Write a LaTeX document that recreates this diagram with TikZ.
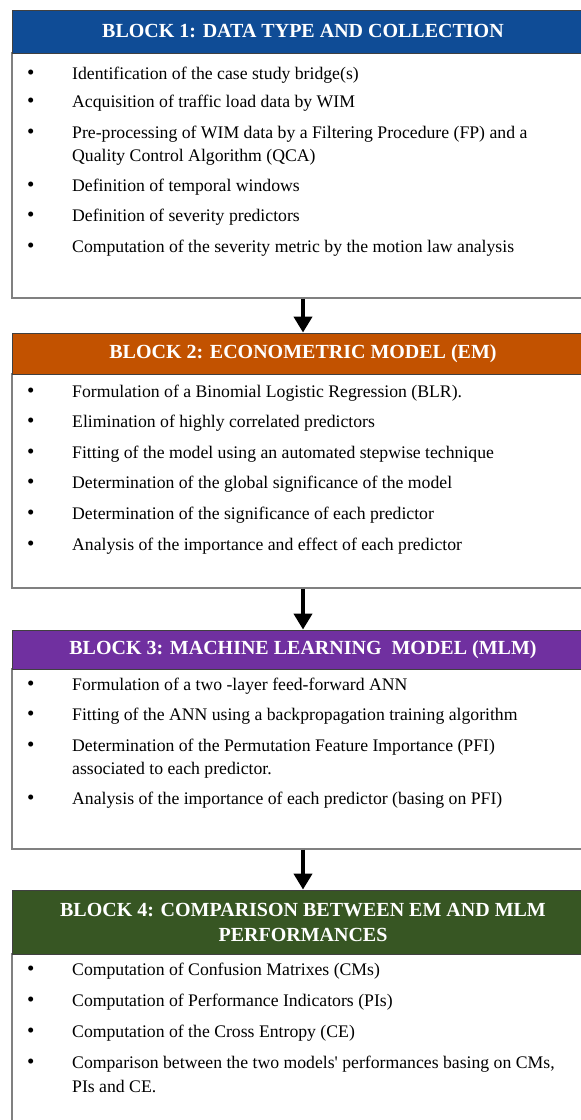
\documentclass[tikz,border=0pt]{standalone}
\usepackage{fontspec}
\setmainfont{Liberation Serif}
\usetikzlibrary{arrows.meta, positioning}
\definecolor{blkblue}{HTML}{0F4C96}
\definecolor{blkorange}{HTML}{C25200}
\definecolor{blkpurple}{HTML}{7030A0}
\definecolor{blkgreen}{HTML}{375623}
\definecolor{boxgray}{HTML}{808080}
\newcommand{\bul}{\makebox[45pt][l]{\fontsize{21}{21}\selectfont\textbullet}}

\begin{document}
\begin{tikzpicture}[x=1pt, y=-1pt,
  hdr/.style={draw=black!75, line width=0.9pt, text=white, align=center,
    font=\fontsize{20}{25}\selectfont\bfseries, minimum width=582pt, inner sep=0pt},
  body/.style={draw=boxgray, line width=1.3pt, fill=white, minimum width=582pt, inner sep=0pt},
  item/.style={anchor=base west, inner sep=0pt, font=\fontsize{17.7}{23}\selectfont},
  flow/.style={-{Triangle[length=16pt, width=18pt]}, line width=4.6pt}]

\useasboundingbox (0,0) rectangle (581,1120);
\clip (0,0) rectangle (581,1120);
\fill[white] (0,0) rectangle (581,1120);

% Block 1: data type and collection
\node[body, minimum height=245pt] (body1) at (303,175.5) {};
\node[hdr, fill=blkblue, minimum height=43pt] (hdr1) at (303,31.5) {BLOCK 1: DATA TYPE AND COLLECTION};
\node[item] (b1a) at (27,79) {\bul Identification of the case study bridge(s)};
\node[item] (b1b) at (27,107) {\bul Acquisition of traffic load data by WIM};
\node[item] (b1c) at (27,138) {\bul Pre-processing of WIM data by a Filtering Procedure (FP) and a};
\node[item] (b1c2) at (72,161) {Quality Control Algorithm (QCA)};
\node[item] (b1d) at (27,191) {\bul Definition of temporal windows};
\node[item] (b1e) at (27,221) {\bul Definition of severity predictors};
\node[item] (b1f) at (27,252) {\bul Computation of the severity metric by the motion law analysis};

% Block 2: econometric model
\node[body, minimum height=214pt] (body2) at (303,481) {};
\node[hdr, fill=blkorange, minimum height=41pt] (hdr2) at (303,353.5) {BLOCK 2: ECONOMETRIC MODEL (EM)};
\node[item] (b2a) at (27,397) {\bul Formulation of a Binomial Logistic Regression (BLR).};
\node[item] (b2b) at (27,427) {\bul Elimination of highly correlated predictors};
\node[item] (b2c) at (27,458) {\bul Fitting of the model using an automated stepwise technique};
\node[item] (b2d) at (27,488) {\bul Determination of the global significance of the model};
\node[item] (b2e) at (27,519) {\bul Determination of the significance of each predictor};
\node[item] (b2f) at (27,550) {\bul Analysis of the importance and effect of each predictor};

% Block 3: machine learning model
\node[body, minimum height=180pt] (body3) at (303,759) {};
\node[hdr, fill=blkpurple, minimum height=39pt] (hdr3) at (303,649.5) {BLOCK 3: MACHINE LEARNING\ \ MODEL (MLM)};
\node[item] (b3a) at (27,690) {\bul Formulation of a two -layer feed-forward ANN};
\node[item] (b3b) at (27,720) {\bul Fitting of the ANN using a backpropagation training algorithm};
\node[item] (b3c) at (27,751) {\bul Determination of the Permutation Feature Importance (PFI)};
\node[item] (b3c2) at (72,774) {associated to each predictor.};
\node[item] (b3d) at (27,804) {\bul Analysis of the importance of each predictor (basing on PFI)};

% Block 4: comparison
\node[body, minimum height=200pt] (body4) at (303,1054) {};
\node[hdr, fill=blkgreen, minimum height=64pt] (hdr4) at (303,922) {BLOCK 4: COMPARISON BETWEEN EM AND MLM\\PERFORMANCES};
\node[item] (b4a) at (27,975) {\bul Computation of Confusion Matrixes (CMs)};
\node[item] (b4b) at (27,1006) {\bul Computation of Performance Indicators (PIs)};
\node[item] (b4c) at (27,1037) {\bul Computation of the Cross Entropy (CE)};
\node[item] (b4d) at (27,1068) {\bul Comparison between the two models\textquotesingle{} performances basing on CMs,};
\node[item] (b4d2) at (72,1092) {PIs and CE.};

% Flow arrows
\draw[flow] (body1.south) -- (hdr2.north);
\draw[flow] (body2.south) -- (hdr3.north);
\draw[flow] (body3.south) -- (hdr4.north);

\end{tikzpicture}
\end{document}
